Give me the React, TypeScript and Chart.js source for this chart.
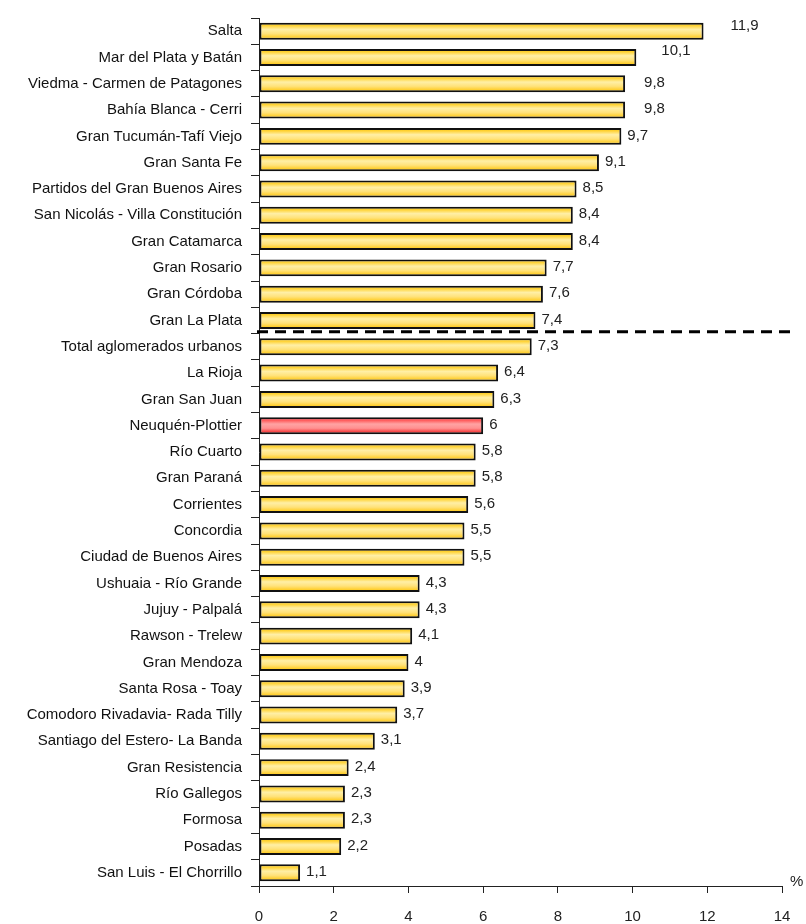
import React, { useEffect, useRef } from "react";
import { Chart, registerables } from "chart.js";

Chart.register(...registerables);

const categories: string[] = [
  "Salta",
  "Mar del Plata y Batán",
  "Viedma - Carmen de Patagones",
  "Bahía Blanca - Cerri",
  "Gran Tucumán-Tafí Viejo",
  "Gran Santa Fe",
  "Partidos del Gran Buenos Aires",
  "San Nicolás - Villa Constitución",
  "Gran Catamarca",
  "Gran Rosario",
  "Gran Córdoba",
  "Gran La Plata",
  "Total aglomerados urbanos",
  "La Rioja",
  "Gran San Juan",
  "Neuquén-Plottier",
  "Río Cuarto",
  "Gran Paraná",
  "Corrientes",
  "Concordia",
  "Ciudad de Buenos Aires",
  "Ushuaia - Río Grande",
  "Jujuy - Palpalá",
  "Rawson - Trelew",
  "Gran Mendoza",
  "Santa Rosa - Toay",
  "Comodoro Rivadavia- Rada Tilly",
  "Santiago del Estero- La Banda",
  "Gran Resistencia",
  "Río Gallegos",
  "Formosa",
  "Posadas",
  "San Luis - El Chorrillo",
];

const values: number[] = [
  11.9, 10.1, 9.8, 9.8, 9.7, 9.1, 8.5, 8.4, 8.4, 7.7, 7.6, 7.4, 7.3, 6.4, 6.3,
  6, 5.8, 5.8, 5.6, 5.5, 5.5, 4.3, 4.3, 4.1, 4, 3.9, 3.7, 3.1, 2.4, 2.3, 2.3,
  2.2, 1.1,
];

const highlighted: string = "Neuquén-Plottier";
const separatorAfter: string = "Gran La Plata";
const xTicks: number[] = [0, 2, 4, 6, 8, 10, 12, 14];
const unitLabel: string = "%";

const LABEL_DX: number[] = [27, 25, 19, 19];
const BAR_H = 17;

function barFill(ctx: any) {
  const chart = ctx.chart;
  const ys = chart.scales && chart.scales.y;
  const isRed = categories[ctx.dataIndex] === highlighted;
  const flat = isRed ? "#FF8A8A" : "#FFE27A";
  if (!ys || ctx.dataIndex === undefined) return flat;
  const c = ys.getPixelForValue(ctx.dataIndex);
  if (!isFinite(c)) return flat;
  const g = chart.ctx.createLinearGradient(0, c - BAR_H / 2, 0, c + BAR_H / 2);
  if (isRed) {
    g.addColorStop(0, "#E0001A");
    g.addColorStop(0.18, "#FF5A5A");
    g.addColorStop(0.4, "#FFA3A3");
    g.addColorStop(0.65, "#FF9090");
    g.addColorStop(0.85, "#F84848");
    g.addColorStop(1, "#D80010");
  } else {
    g.addColorStop(0, "#F2BC00");
    g.addColorStop(0.18, "#FFD336");
    g.addColorStop(0.4, "#FFEFA6");
    g.addColorStop(0.65, "#FFE27A");
    g.addColorStop(0.85, "#FFCF30");
    g.addColorStop(1, "#E8B000");
  }
  return g;
}

const overlayPlugin = {
  id: "overlay",
  afterDatasetsDraw(chart: any) {
    const ctx = chart.ctx;
    const meta = chart.getDatasetMeta(0);
    const ys = chart.scales.y;
    ctx.save();
    ctx.fillStyle = "#222";
    ctx.font = '15px "Liberation Sans Narrow", "Liberation Sans", Arial, sans-serif';
    ctx.textAlign = "left";
    ctx.textBaseline = "middle";
    meta.data.forEach((bar: any, i: number) => {
      const dx = i < LABEL_DX.length ? LABEL_DX[i] : 6;
      const dy = i === 0 ? -5 : i === 1 ? -7 : -1;
      const txt = String(values[i]).replace(".", ",");
      ctx.fillText(txt, bar.x + dx, bar.y + dy);
    });
    const idx = categories.indexOf(separatorAfter);
    const yb = ys.getPixelForValue(idx + 0.5) - 2;
    ctx.strokeStyle = "#000";
    ctx.lineWidth = 3;
    ctx.setLineDash([11, 7]);
    ctx.beginPath();
    ctx.moveTo(chart.chartArea.left - 2, yb);
    ctx.lineTo(795, yb);
    ctx.stroke();
    ctx.setLineDash([]);
    ctx.fillStyle = "#222";
    ctx.fillText(unitLabel, chart.chartArea.right + 8, chart.chartArea.bottom - 4);
    ctx.restore();
  },
};

export default function App() {
  const ref = useRef<HTMLCanvasElement | null>(null);
  useEffect(() => {
    document.body.style.margin = "0";
    const canvas = ref.current;
    if (!canvas) return;
    const chart = new Chart(canvas, {
      type: "bar",
      data: {
        labels: categories,
        datasets: [
          {
            data: values,
            backgroundColor: barFill as any,
            borderColor: "#111",
            borderWidth: 2,
            borderSkipped: false,
            barPercentage: 0.645,
            categoryPercentage: 1,
          },
        ],
      },
      options: {
        indexAxis: "y",
        animation: false,
        responsive: false,
        maintainAspectRatio: false,
        layout: { padding: { top: 14, right: 24, left: 0, bottom: 0 } },
        plugins: {
          legend: { display: false },
          tooltip: { enabled: false },
        },
        scales: {
          x: {
            min: 0,
            max: 14,
            afterFit: (s: any) => {
              s.height = 38;
            },
            afterBuildTicks: (s: any) => {
              s.ticks = xTicks.map((v) => ({ value: v }));
            },
            grid: {
              drawOnChartArea: false,
              drawTicks: true,
              tickLength: 7,
              color: "#222",
              lineWidth: 1,
            },
            border: { display: true, color: "#222", width: 1 },
            ticks: {
              color: "#222",
              padding: 15,
              font: { family: '"Liberation Sans Narrow", "Liberation Sans", Arial, sans-serif', size: 15 },
              maxRotation: 0,
            },
          },
          y: {
            afterFit: (s: any) => {
              s.width = 259;
            },
            grid: {
              offset: true,
              drawOnChartArea: false,
              drawTicks: true,
              tickLength: 8,
              color: "#222",
              lineWidth: 1,
            },
            border: { display: true, color: "#222", width: 1 },
            ticks: {
              color: "#111",
              padding: 9,
              autoSkip: false,
              font: { family: '"Liberation Sans", Arial, sans-serif', size: 15 },
            },
          },
        },
      },
      plugins: [overlayPlugin],
    });
    return () => chart.destroy();
  }, []);
  return <canvas ref={ref} width={806} height={924} style={{ display: "block" }} />;
}
